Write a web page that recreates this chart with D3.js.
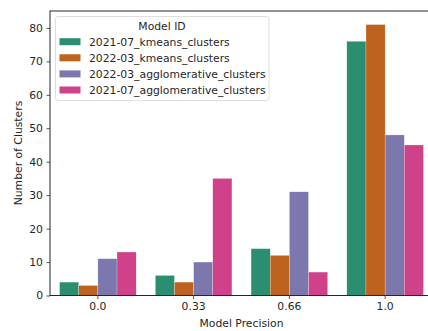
<!DOCTYPE html>
<html><head><meta charset="utf-8">
<script src="https://cdn.jsdelivr.net/npm/d3@7"></script>
<style>body{margin:0;background:#fff;}svg{display:block;font-family:"DejaVu Sans",sans-serif;}</style>
</head><body><svg id="c" width="428" height="331"></svg>
<script>
const categories = ["0.0", "0.33", "0.66", "1.0"];
const seriesNames = ["2021-07_kmeans_clusters", "2022-03_kmeans_clusters", "2022-03_agglomerative_clusters", "2021-07_agglomerative_clusters"];
const s_kmeans2107 = [4, 6, 14, 76];
const s_kmeans2203 = [3, 4, 12, 81];
const s_agglo2203 = [11, 10, 31, 48];
const s_agglo2107 = [13, 35, 7, 45];
const yTicks = [0, 10, 20, 30, 40, 50, 60, 70, 80];
const colors = ["#2b8e70", "#be631d", "#7c78ad", "#cf4189"];

const FS = 10.8;
const series = [s_kmeans2107, s_kmeans2203, s_agglo2203, s_agglo2107];
const svg = d3.select("#c");
const m = {l: 50, r: 433, t: 11, b: 295.5};
const x = d3.scaleBand().domain(categories).range([m.l, m.r]).paddingInner(0).paddingOuter(0);
const ymax = d3.max(series.flat()) * 1.05;
const y = d3.scaleLinear().domain([0, ymax]).range([m.b, m.t]);
const bw = x.bandwidth() * 0.8;
const xs = d3.scaleBand().domain(d3.range(series.length)).range([0, bw]);

const g = svg.append("g");
series.forEach((s, i) => {
  g.selectAll(null).data(s).join("rect")
    .attr("x", (d, j) => x(categories[j]) + (x.bandwidth() - bw) / 2 + xs(i))
    .attr("width", xs.bandwidth())
    .attr("y", d => y(d))
    .attr("height", d => y(0) - y(d))
    .attr("fill", colors[i])
    .attr("stroke", "#fff").attr("stroke-width", 0.4).attr("stroke-opacity", 0.6);
});

// axes
const yAxis = svg.append("g").attr("transform", `translate(${m.l},0)`)
  .call(d3.axisLeft(y).tickValues(yTicks).tickSize(3.5).tickPadding(3.5).tickFormat(d3.format("d")));
const xAxis = svg.append("g").attr("transform", `translate(0,${m.b})`)
  .call(d3.axisBottom(x).tickSize(3.5).tickPadding(3.5));
[yAxis, xAxis].forEach(a => {
  a.select(".domain").remove();
  a.selectAll("text").attr("font-size", FS).attr("fill", "#262626").attr("font-family", "DejaVu Sans");
  a.selectAll("line").attr("stroke", "#262626").attr("stroke-width", 0.8);
});
// spines
svg.append("rect").attr("x", m.l).attr("y", m.t).attr("width", m.r - m.l).attr("height", m.b - m.t)
  .attr("fill", "none").attr("stroke", "#262626").attr("stroke-width", 1);

// labels
svg.append("text").attr("x", (m.l + m.r) / 2).attr("y", 327).attr("text-anchor", "middle")
  .attr("font-size", FS).attr("fill", "#262626").text("Model Precision");
svg.append("text").attr("transform", "translate(22,153) rotate(-90)").attr("text-anchor", "middle")
  .attr("font-size", FS).attr("fill", "#262626").text("Number of Clusters");

// legend
const lg = svg.append("g");
lg.append("rect").attr("x", 55.5).attr("y", 16.5).attr("width", 213.5).attr("height", 84).attr("rx", 2.5)
  .attr("fill", "#fff").attr("fill-opacity", 0.8).attr("stroke", "#d6d6d6").attr("stroke-width", 0.8);
lg.append("text").attr("x", 162).attr("y", 30).attr("text-anchor", "middle").attr("font-size", FS)
  .attr("fill", "#262626").text("Model ID");
seriesNames.forEach((n, i) => {
  const yy = 41.7 + i * 16.1;
  lg.append("rect").attr("x", 59.5).attr("y", yy - 3.5).attr("width", 21).attr("height", 7).attr("fill", colors[i]);
  lg.append("text").attr("x", 89).attr("y", yy + 3.9).attr("font-size", FS).attr("fill", "#262626").text(n);
});
</script></body></html>
